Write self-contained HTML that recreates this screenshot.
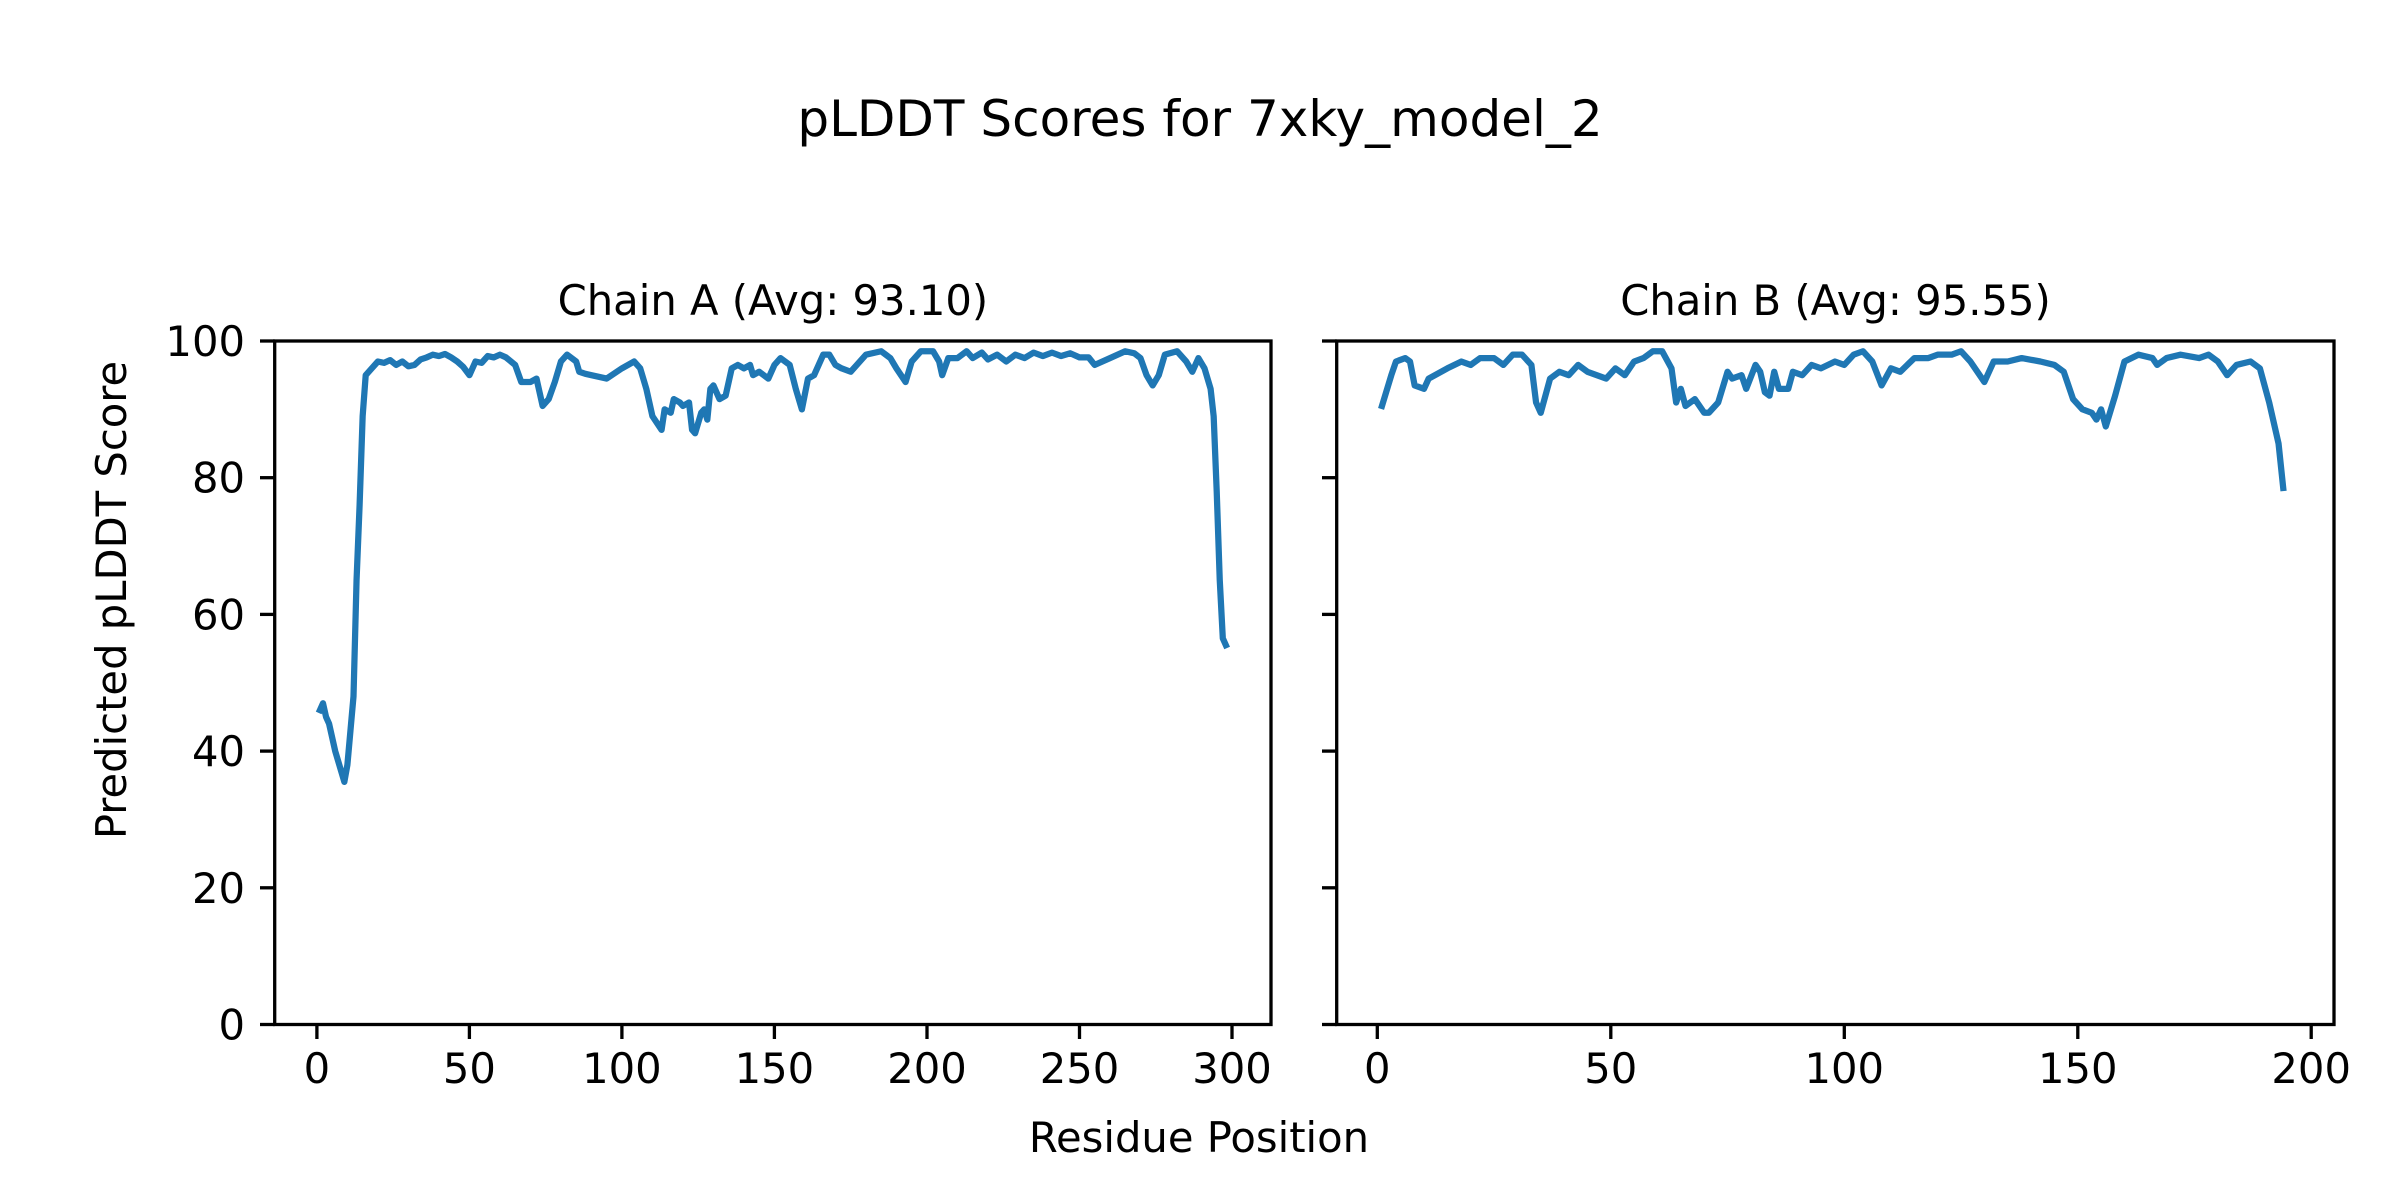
<!DOCTYPE html>
<html><head><meta charset="utf-8"><style>
html,body{margin:0;padding:0;background:#fff}
svg{display:block}
text{font-family:"DejaVu Sans","Liberation Sans",sans-serif;fill:#000}
</style></head><body>
<svg width="2400" height="1200" viewBox="0 0 2400 1200" xmlns="http://www.w3.org/2000/svg">
<rect width="2400" height="1200" fill="#fff"/>
<text x="1200" y="136" font-size="50" text-anchor="middle">pLDDT Scores for 7xky_model_2</text>
<text x="772.9" y="315" font-size="41.7" text-anchor="middle">Chain A (Avg: 93.10)</text>
<text x="1835.5" y="315" font-size="41.7" text-anchor="middle">Chain B (Avg: 95.55)</text>
<text x="1199" y="1152" font-size="41.7" text-anchor="middle">Residue Position</text>
<text transform="translate(126,600) rotate(-90)" font-size="41.7" text-anchor="middle">Predicted pLDDT Score</text>

<g transform="matrix(3.0502 0 0 -6.835 316.9 1024.5)">
<polyline fill="none" stroke="#1f77b4" stroke-width="6.25" stroke-linejoin="round" stroke-linecap="square" vector-effect="non-scaling-stroke" points="1,46 2,47 3,45 4,44 6,40 8,37 9,35.5 10,38 11,43 12,48 13,65 14,76 15,89 16,95 18,96 20,97 22,96.8 24,97.2 26,96.5 28,97 30,96.3 32,96.5 34,97.3 36,97.6 38,98 40,97.8 42,98.1 44,97.6 46,97 48,96.2 50,95 52,97 54,96.8 56,97.8 58,97.6 60,98 62,97.6 65,96.5 67,94 70,94 72,94.5 74,90.5 76,91.5 78,94 80,97 82,98 85,97 86,95.5 88,95.2 90,95 95,94.5 100,96 104,97 106,96 108,93 110,89 113,87 114,90 116,89.5 117,91.5 119,91 120,90.5 122,91 123,87 124,86.5 126,89.5 127,90 128,88.5 129,93 130,93.5 132,91.5 134,92 136,96 138,96.5 140,96 142,96.5 143,95 145,95.5 148,94.5 150,96.5 152,97.5 155,96.5 157,93 159,90 161,94.5 163,95 166,98 168,98 170,96.5 172,96 175,95.5 177,96.5 180,98 185,98.5 188,97.5 190,96 193,94 195,97 198,98.5 202,98.5 204,97 205,95 207,97.5 210,97.5 213,98.5 215,97.5 218,98.3 220,97.3 223,98 226,97 229,98 232,97.5 235,98.3 238,97.8 241,98.3 244,97.8 247,98.2 250,97.6 253,97.6 255,96.5 260,97.5 265,98.5 268,98.2 270,97.5 272,95 274,93.5 276,95 278,98 282,98.5 285,97 287,95.5 289,97.5 291,96 293,93 294,89 295,78 296,65 297,56.5 298,55.5"/>
</g>
<g transform="matrix(4.6697 0 0 -6.835 1377.3 1024.5)">
<polyline fill="none" stroke="#1f77b4" stroke-width="6.25" stroke-linejoin="round" stroke-linecap="square" vector-effect="non-scaling-stroke" points="1,90.5 3,95 4,97 6,97.5 7,97 8,93.5 10,93 11,94.5 15,96 18,97 20,96.5 22,97.5 25,97.5 27,96.5 29,98 31,98 33,96.5 34,91 35,89.5 37,94.5 39,95.5 41,95 43,96.5 45,95.5 47,95 49,94.5 51,96 53,95 55,97 57,97.5 59,98.5 61,98.5 63,96 64,91 65,93 66,90.5 68,91.5 70,89.5 71,89.5 73,91 75,95.5 76,94.5 78,95 79,93 81,96.5 82,95.5 83,92.5 84,92 85,95.5 86,93 88,93 89,95.5 91,95 93,96.5 95,96 98,97 100,96.5 102,98 104,98.5 106,97 108,93.5 110,96 112,95.5 115,97.5 118,97.5 120,98 123,98 125,98.5 127,97 130,94 132,97 135,97 138,97.5 142,97 145,96.5 147,95.5 149,91.5 151,90 153,89.5 154,88.5 155,90 156,87.5 158,92 160,97 163,98 166,97.5 167,96.5 169,97.5 172,98 176,97.5 178,98 180,97 182,95 184,96.5 187,97 189,96 191,91 193,85 194,78.5"/>
</g>

<g stroke="#000" stroke-width="3.3" fill="none" stroke-linecap="square">
<rect x="274.7" y="341" width="996.3" height="683.5"/>
<rect x="1336.7" y="341" width="997.3" height="683.5"/>
</g>
<g stroke="#000" stroke-width="3.3">
<line x1="260" x2="274.7" y1="1024.5" y2="1024.5"/><line x1="260" x2="274.7" y1="887.8" y2="887.8"/><line x1="260" x2="274.7" y1="751.1" y2="751.1"/><line x1="260" x2="274.7" y1="614.4" y2="614.4"/><line x1="260" x2="274.7" y1="477.7" y2="477.7"/><line x1="260" x2="274.7" y1="341" y2="341"/>
<line x1="1322" x2="1336.7" y1="1024.5" y2="1024.5"/><line x1="1322" x2="1336.7" y1="887.8" y2="887.8"/><line x1="1322" x2="1336.7" y1="751.1" y2="751.1"/><line x1="1322" x2="1336.7" y1="614.4" y2="614.4"/><line x1="1322" x2="1336.7" y1="477.7" y2="477.7"/><line x1="1322" x2="1336.7" y1="341" y2="341"/>
<line x1="316.9" x2="316.9" y1="1024.5" y2="1039"/><line x1="469.4" x2="469.4" y1="1024.5" y2="1039"/><line x1="621.9" x2="621.9" y1="1024.5" y2="1039"/><line x1="774.4" x2="774.4" y1="1024.5" y2="1039"/><line x1="927" x2="927" y1="1024.5" y2="1039"/><line x1="1079.5" x2="1079.5" y1="1024.5" y2="1039"/><line x1="1232" x2="1232" y1="1024.5" y2="1039"/>
<line x1="1377.3" x2="1377.3" y1="1024.5" y2="1039"/><line x1="1610.8" x2="1610.8" y1="1024.5" y2="1039"/><line x1="1844.3" x2="1844.3" y1="1024.5" y2="1039"/><line x1="2077.8" x2="2077.8" y1="1024.5" y2="1039"/><line x1="2311.2" x2="2311.2" y1="1024.5" y2="1039"/>
</g>
<g font-size="41.7" text-anchor="end">
<text x="245" y="1039.5">0</text><text x="245" y="902.8">20</text><text x="245" y="766.1">40</text><text x="245" y="629.4">60</text><text x="245" y="492.7">80</text><text x="245" y="356">100</text>
</g>
<g font-size="41.7" text-anchor="middle">
<text x="316.9" y="1083">0</text><text x="469.4" y="1083">50</text><text x="621.9" y="1083">100</text><text x="774.4" y="1083">150</text><text x="927" y="1083">200</text><text x="1079.5" y="1083">250</text><text x="1232" y="1083">300</text>
<text x="1377.3" y="1083">0</text><text x="1610.8" y="1083">50</text><text x="1844.3" y="1083">100</text><text x="2077.8" y="1083">150</text><text x="2311.2" y="1083">200</text>
</g>
</svg>
</body></html>
